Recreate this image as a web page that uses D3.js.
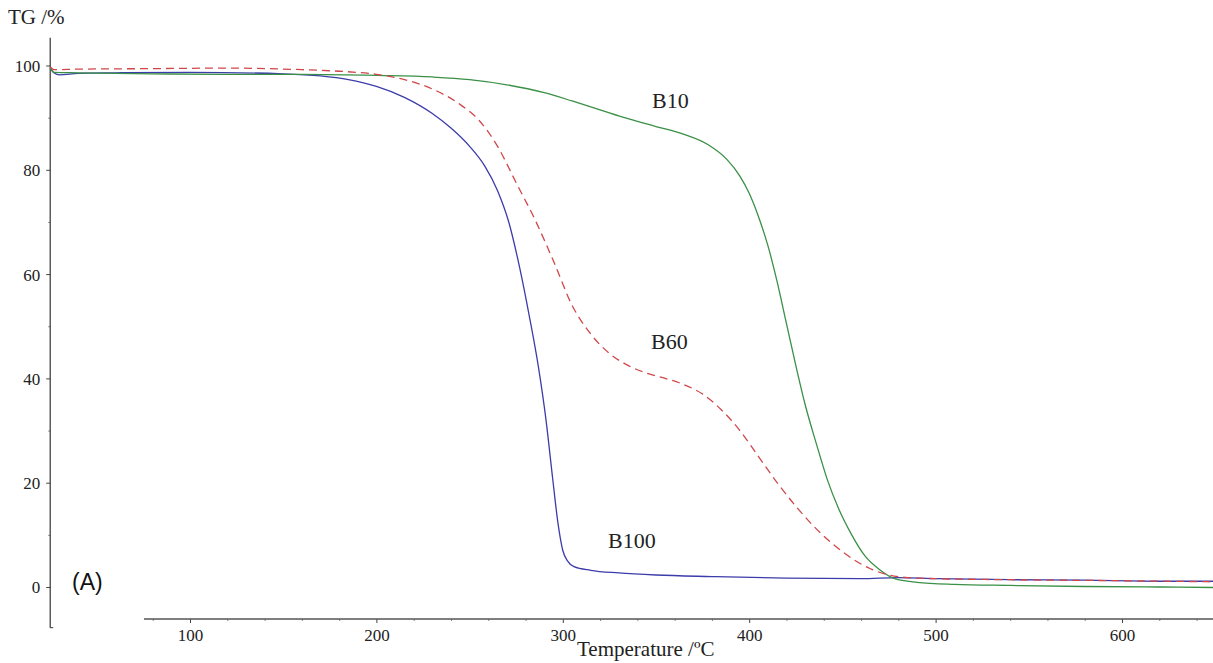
<!DOCTYPE html>
<html>
<head>
<meta charset="utf-8">
<script src="https://cdn.jsdelivr.net/npm/d3@7"></script>
<style>
  body { margin: 0; background: #fff; }
  svg text { font-family: "Liberation Serif", "Times New Roman", serif; fill: #222; }
</style>
</head>
<body>
<div id="chart"></div>
<script>
// TG curves (temperature in °C, mass in %)
const b100Temp = [25, 27, 30, 40, 60, 100, 150, 170, 185, 200, 215, 230, 240, 250, 258, 265, 271, 277, 282, 287, 291, 294.5, 297.5, 300, 302.5, 306, 315, 330, 350, 380, 420, 460, 480, 500, 540, 580, 620, 649];
const b100Mass = [99.6, 98.6, 98.2, 98.5, 98.6, 98.7, 98.4, 98.0, 97.3, 96.0, 93.9, 90.8, 88.0, 84.5, 80.8, 76, 70, 61, 52, 42, 32, 21, 12, 7, 5.0, 3.9, 3.2, 2.7, 2.3, 2.0, 1.7, 1.6, 1.8, 1.6, 1.4, 1.3, 1.1, 1.1];

const b60Temp = [25, 27, 40, 80, 120, 160, 180, 200, 215, 230, 245, 255, 265, 275, 285, 295, 305, 315, 325, 335, 345, 355, 365, 375, 385, 395, 405, 415, 425, 435, 445, 455, 465, 475, 485, 500, 540, 600, 649];
const b60Mass = [99.8, 99.2, 99.3, 99.4, 99.5, 99.2, 98.9, 98.3, 97.3, 95.5, 92.5, 89.5, 84.5, 77.5, 70.5, 62.5, 54, 48.5, 44.8, 42.5, 41, 40, 38.8, 37, 34, 30, 25, 20, 15.5, 11.5, 8.2, 5.5, 3.5, 2.3, 1.8, 1.6, 1.4, 1.2, 1.0];

const b10Temp = [25, 27, 40, 80, 120, 160, 200, 230, 250, 270, 290, 305, 320, 335, 350, 365, 378, 388, 395, 400, 405, 410, 415, 420, 425, 430, 436, 442, 448, 455, 462, 470, 478, 490, 510, 540, 580, 620, 649];
const b10Mass = [99.5, 98.7, 98.6, 98.4, 98.3, 98.3, 98.1, 97.8, 97.3, 96.3, 94.8, 93.2, 91.5, 89.8, 88.3, 86.8, 84.8, 82, 78.8, 75.5, 71, 65.5, 58.5, 50.5, 42.5, 35, 27.5, 20.5, 15, 10, 6, 3.3, 1.6, 0.9, 0.5, 0.3, 0.1, 0, -0.1];

const xTicks = [100, 200, 300, 400, 500, 600];
const yTicks = [0, 20, 40, 60, 80, 100];
const seriesNames = ["B10", "B60", "B100"];

const width = 1213,
    height = 663;

const svg = d3.select("#chart")
    .append("svg")
    .attr("width", width)
    .attr("height", height);

// scales
const x = d3.scaleLinear().domain([100, 600]).range([190, 1122]);
const y = d3.scaleLinear().domain([0, 100]).range([587, 65.5]);

const xAxisY = 619;
const yAxisX = x(25);

// y axis
const yAxis = svg.append("g")
    .attr("transform", `translate(${yAxisX},0)`)
    .call(d3.axisLeft(y).tickValues(yTicks).tickSize(4).tickSizeOuter(0).tickPadding(6));
yAxis.select(".domain").remove();
yAxis.selectAll("text").style("font-size", "17px").attr("dy", "0.35em");
yAxis.selectAll("line").attr("stroke", "#444");
svg.append("g")
    .attr("transform", `translate(${yAxisX},0)`)
    .call(d3.axisLeft(y).tickValues([10, 30, 50, 70, 90]).tickSize(2).tickFormat(""))
    .call(g => g.select(".domain").remove())
    .selectAll("line").attr("stroke", "#888");
svg.append("line")
    .attr("x1", yAxisX).attr("x2", yAxisX)
    .attr("y1", y(105.3)).attr("y2", y(-7.8))
    .attr("stroke", "#333").attr("stroke-width", 1.2);
svg.append("line")
    .attr("x1", yAxisX).attr("x2", yAxisX + 3)
    .attr("y1", y(-7.8)).attr("y2", y(-7.8))
    .attr("stroke", "#333");

// x axis
const xAxis = svg.append("g")
    .attr("transform", `translate(0,${xAxisY})`)
    .call(d3.axisBottom(x).tickValues(xTicks).tickSize(4).tickSizeOuter(0).tickPadding(6));
xAxis.select(".domain").remove();
xAxis.selectAll("text").style("font-size", "17px");
xAxis.selectAll("line").attr("stroke", "#444");
svg.append("g")
    .attr("transform", `translate(0,${xAxisY})`)
    .call(d3.axisBottom(x).tickValues(d3.range(80, 650, 20).filter(v => v % 100 !== 0)).tickSize(2).tickFormat(""))
    .call(g => g.select(".domain").remove())
    .selectAll("line").attr("stroke", "#888");
svg.append("line")
    .attr("x1", x(75.3)).attr("x2", width)
    .attr("y1", xAxisY).attr("y2", xAxisY)
    .attr("stroke", "#555").attr("stroke-width", 1.4);

// curves
const line = d3.line()
    .x(d => x(d[0]))
    .y(d => y(d[1]))
    .curve(d3.curveMonotoneX);

const curves = [
    { name: "B100", temp: b100Temp, mass: b100Mass, color: "#3c3caa", dash: null },
    { name: "B10", temp: b10Temp, mass: b10Mass, color: "#3a9046", dash: null },
    { name: "B60", temp: b60Temp, mass: b60Mass, color: "#d0474a", dash: "8,5" }
];

curves.forEach(c => {
    svg.append("path")
        .datum(d3.zip(c.temp, c.mass))
        .attr("fill", "none")
        .attr("stroke", c.color)
        .attr("stroke-width", 1.3)
        .attr("stroke-dasharray", c.dash)
        .attr("d", line);
});

// series labels
const labelPos = { B10: [652, 108], B60: [651, 349], B100: [608, 548] };
seriesNames.forEach(n => {
    svg.append("text")
        .attr("x", labelPos[n][0])
        .attr("y", labelPos[n][1])
        .style("font-size", "22px")
        .text(n);
});

// titles
svg.append("text")
    .attr("x", 8).attr("y", 24)
    .style("font-size", "21px")
    .text("TG /%");

svg.append("text")
    .attr("x", 577).attr("y", 656)
    .style("font-size", "21px")
    .text("Temperature /\u00baC");

svg.append("text")
    .attr("x", 72).attr("y", 590)
    .style("font-family", "'Liberation Sans', Arial, sans-serif")
    .style("font-size", "23px")
    .style("fill", "#111")
    .text("(A)");
</script>
</body>
</html>
